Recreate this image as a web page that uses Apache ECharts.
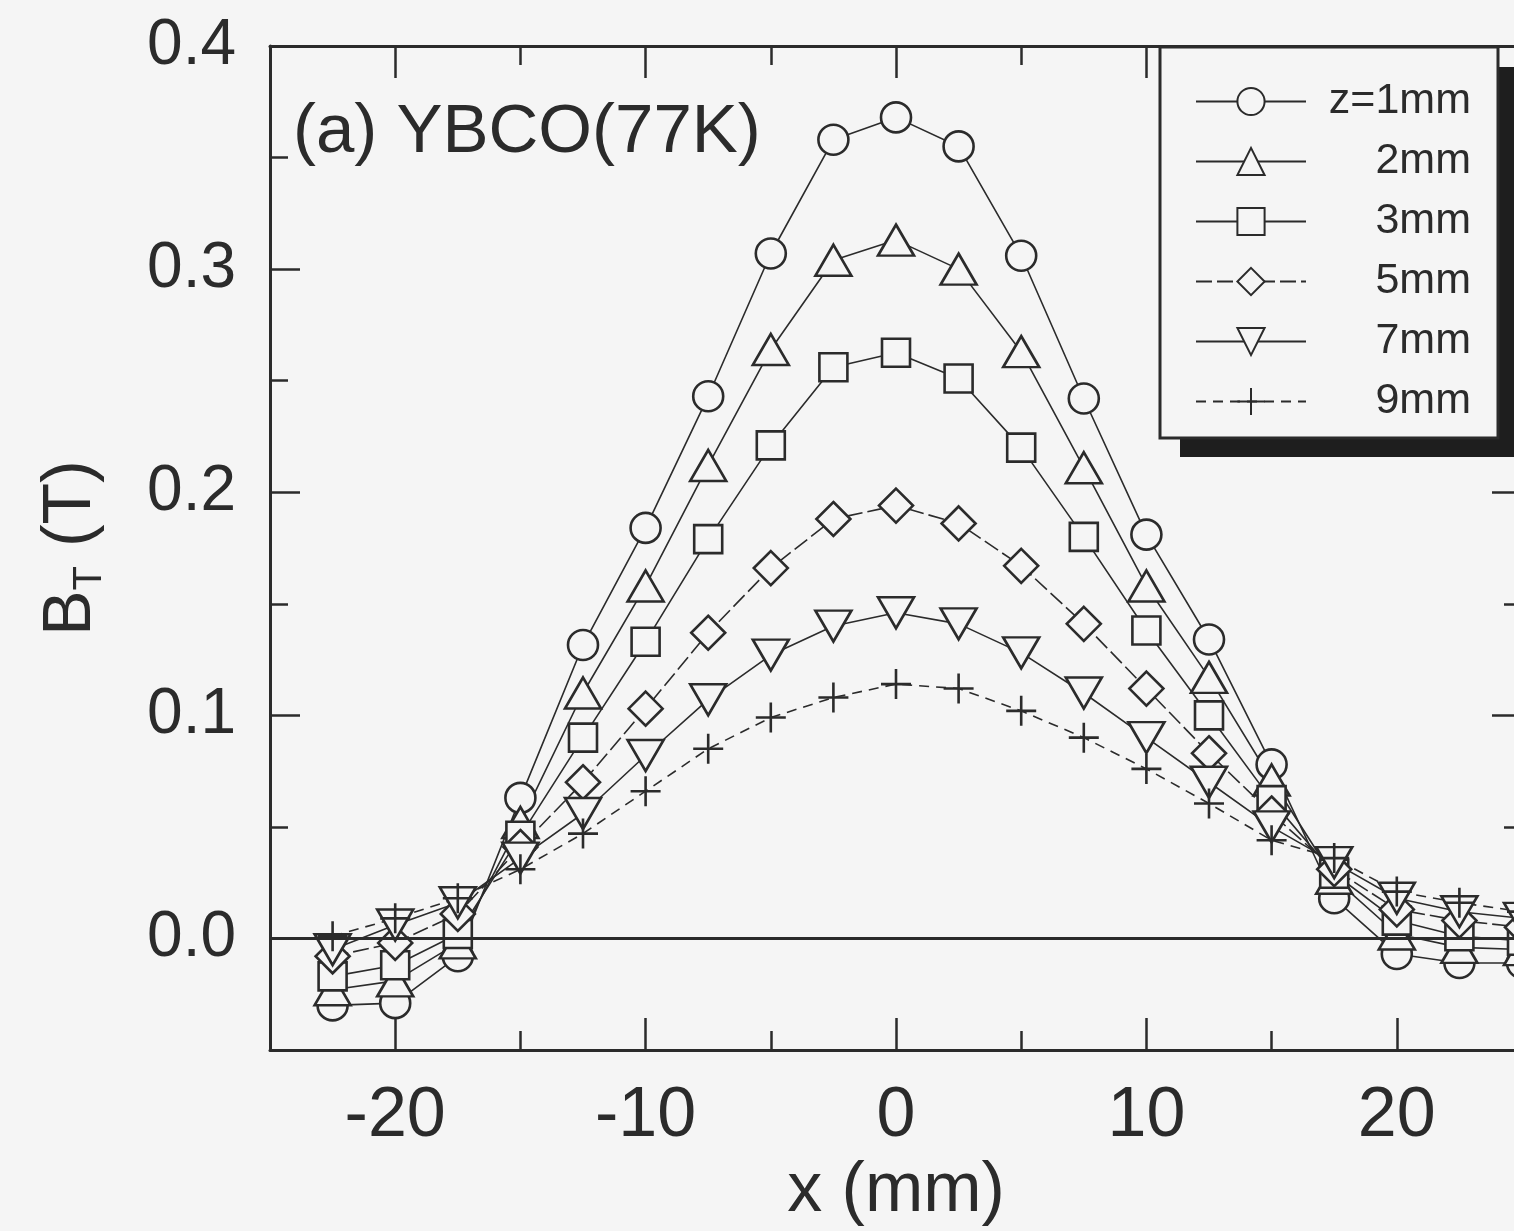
<!DOCTYPE html>
<html><head><meta charset="utf-8">
<script src="https://cdn.jsdelivr.net/npm/echarts@6/dist/echarts.min.js"></script>
<style>html,body{margin:0;padding:0;background:#f5f5f5}#c{width:1514px;height:1231px}</style>
</head><body><div id="c"></div>
<script>
// ---- data ----
const xValues = [-22.5, -20, -17.5, -15, -12.5, -10, -7.5, -5, -2.5, 0, 2.5, 5, 7.5, 10, 12.5, 15, 17.5, 20, 22.5, 25];
const z1mm = [-0.030, -0.029, -0.008, 0.063, 0.1315, 0.184, 0.243, 0.307, 0.358, 0.368, 0.355, 0.306, 0.242, 0.181, 0.134, 0.078, 0.018, -0.007, -0.011, -0.011];
const z2mm = [-0.023, -0.019, -0.002, 0.052, 0.110, 0.158, 0.212, 0.264, 0.304, 0.313, 0.300, 0.263, 0.211, 0.158, 0.117, 0.071, 0.027, 0.002, -0.004, -0.005];
const z3mm = [-0.017, -0.012, 0.002, 0.046, 0.090, 0.133, 0.179, 0.221, 0.256, 0.2625, 0.251, 0.220, 0.180, 0.138, 0.100, 0.062, 0.029, 0.008, 0.001, -0.001];
const z5mm = [-0.008, -0.002, 0.011, 0.041, 0.070, 0.103, 0.137, 0.166, 0.188, 0.194, 0.186, 0.167, 0.141, 0.112, 0.083, 0.056, 0.031, 0.013, 0.008, 0.005];
const z7mm = [-0.005, 0.006, 0.016, 0.036, 0.056, 0.082, 0.107, 0.127, 0.140, 0.146, 0.141, 0.128, 0.110, 0.090, 0.070, 0.050, 0.034, 0.018, 0.012, 0.009];
const z9mm = [0.001, 0.009, 0.018, 0.031, 0.047, 0.066, 0.085, 0.099, 0.108, 0.114, 0.112, 0.102, 0.090, 0.076, 0.0605, 0.044, 0.036, 0.021, 0.016, 0.012];
const seriesNames = ['z=1mm', '2mm', '3mm', '5mm', '7mm', '9mm'];
const xMajorTicks = [-20, -10, 0, 10, 20];
const xMinorTicks = [-15, -5, 5, 15];
const yMajorTicks = [0, 0.1, 0.2, 0.3, 0.4];
const yMinorTicks = [0.05, 0.15, 0.25, 0.35];
const panelLabel = '(a) YBCO(77K)';
const xTitle = 'x (mm)';

// ---- styling ----
const ink = '#2b2b2b';
const bg = '#f5f5f5';
const font = '"Liberation Sans", Arial, Helvetica, sans-serif';
const XMIN = -25, XMAX = 25, YMIN = -0.05, YMAX = 0.4;

const chart = echarts.init(document.getElementById('c'), null, {renderer: 'canvas', width: 1514, height: 1231});

function xAxisDef(pos, major) {
  const vals = major ? xMajorTicks : xMinorTicks;
  const withLabel = major && pos === 'bottom';
  return {
    type: 'value', gridIndex: 0, position: pos, min: XMIN, max: XMAX,
    axisLine: {show: major, onZero: false, lineStyle: {color: ink, width: 3}},
    axisTick: {show: true, inside: true, length: major ? 32 : 19, customValues: vals, lineStyle: {color: ink, width: 2.5}},
    axisLabel: {show: withLabel, customValues: vals, margin: 32, fontSize: 70, fontFamily: font, color: ink, formatter: v => String(v)},
    splitLine: {show: false},
    name: withLabel ? xTitle : '',
    nameLocation: 'middle', nameGap: 102,
    nameTextStyle: {fontSize: 70, fontFamily: font, color: ink},
    silent: true
  };
}
function yAxisDef(pos, major) {
  const vals = major ? yMajorTicks : yMinorTicks;
  const withLabel = major && pos === 'left';
  return {
    type: 'value', gridIndex: 0, position: pos, min: YMIN, max: YMAX,
    axisLine: {show: major, onZero: false, lineStyle: {color: ink, width: 3}},
    axisTick: {show: true, inside: true, length: major ? 30 : 18, customValues: vals, lineStyle: {color: ink, width: 2.5}},
    axisLabel: {show: withLabel, customValues: vals, margin: 34, fontSize: 64, fontFamily: font, color: ink, formatter: v => v.toFixed(1)},
    splitLine: {show: false},
    name: withLabel ? '{b|B}{s|T}{b| (T)}' : '',
    nameLocation: 'middle', nameGap: 160, nameRotate: 90,
    nameTextStyle: {color: ink, rich: {
      b: {fontSize: 68, fontFamily: font, color: ink, lineHeight: 78},
      s: {fontSize: 40, fontFamily: font, color: ink, lineHeight: 40, verticalAlign: 'bottom'}
    }},
    silent: true
  };
}

const defs = [
  {data: z1mm, symbol: 'circle', size: 30, dash: 'solid'},
  {data: z2mm, symbol: 'triangle', size: [36, 31], dash: 'solid'},
  {data: z3mm, symbol: 'rect', size: [28, 28], dash: 'solid'},
  {data: z5mm, symbol: 'diamond', size: [34, 34], dash: [16, 5]},
  {data: z7mm, symbol: 'path://M0,0L10,0L5,8.7Z', size: [36, 31], dash: 'solid'},
  {data: z9mm, symbol: 'path://M0,5L10,5M5,0L5,10', size: [30, 30], dash: [10, 7]}
];

const series = defs.map((d, k) => ({
  type: 'line', name: seriesNames[k], xAxisIndex: 0, yAxisIndex: 0,
  data: xValues.map((x, i) => [x, d.data[i]]),
  symbol: d.symbol, symbolSize: d.size, showAllSymbol: true,
  lineStyle: {color: ink, width: 1.6, type: d.dash},
  itemStyle: {color: bg, borderColor: ink, borderWidth: 2.6},
  emphasis: {disabled: true},
  clip: false, animation: false, z: 3
}));
series[0].markLine = {
  silent: true, symbol: ['none', 'none'], animation: false,
  label: {show: false},
  lineStyle: {color: ink, width: 3, type: 'solid'},
  data: [{yAxis: 0}]
};

chart.setOption({
  backgroundColor: bg,
  animation: false,
  grid: {left: 270, top: 46, right: -8, bottom: 181, outerBoundsMode: 'none', containLabel: false},
  xAxis: [xAxisDef('bottom', true), xAxisDef('bottom', false), xAxisDef('top', true), xAxisDef('top', false)],
  yAxis: [yAxisDef('left', true), yAxisDef('left', false), yAxisDef('right', true), yAxisDef('right', false)],
  legend: {
    orient: 'vertical', left: 1160, top: 47, z: 10,
    padding: [33, 27, 15, 35],
    itemWidth: 110, itemHeight: 34, itemGap: 17,
    backgroundColor: bg, borderColor: ink, borderWidth: 3,
    selectedMode: false,
    data: seriesNames,
    formatter: n => '{r|' + n + '}',
    textStyle: {color: ink, fontFamily: font, fontSize: 43, lineHeight: 34,
      rich: {r: {width: 160, align: 'right', fontSize: 43, fontFamily: font, color: ink, lineHeight: 34}}}
  },
  graphic: [
    {type: 'rect', left: 1180, top: 67, z: 1, silent: true,
     shape: {width: 340, height: 390}, style: {fill: '#1e1e1e'}},
    {type: 'text', left: 293, top: 98, z: 5, silent: true,
     style: {text: panelLabel, fill: ink, font: '69px ' + font}}
  ],
  series: series
});
</script>
</body></html>
